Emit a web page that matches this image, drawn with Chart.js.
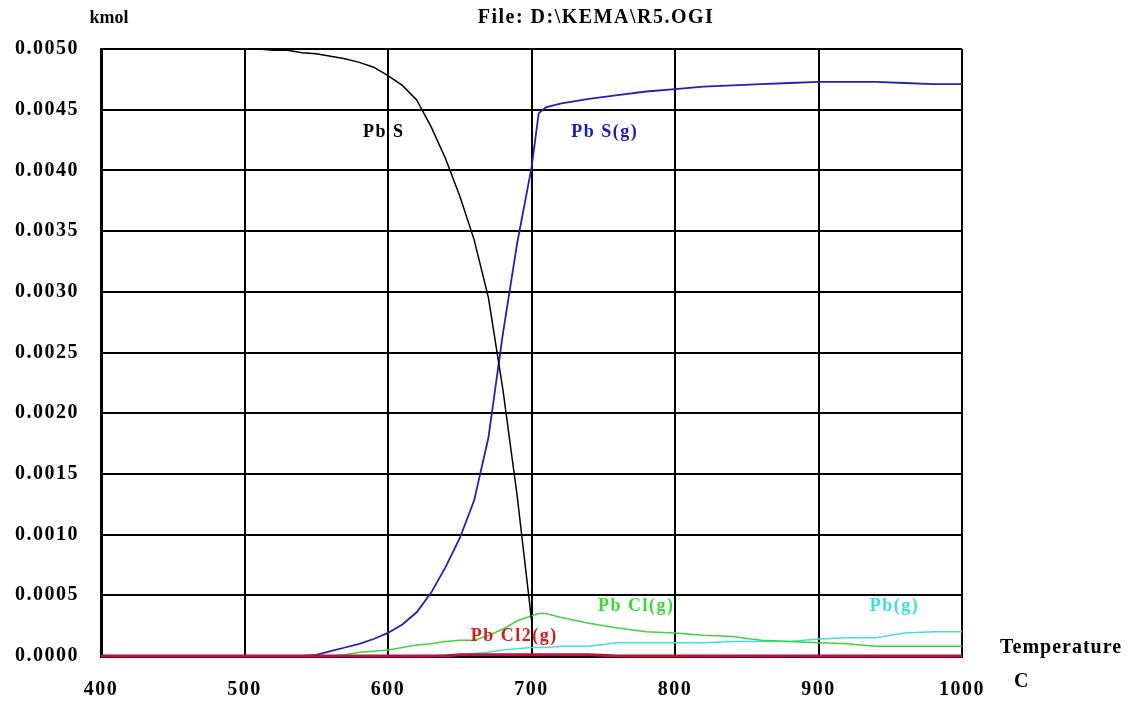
<!DOCTYPE html>
<html lang="en">
<head>
    <meta charset="UTF-8">
    <title>KEMA R5</title>
    <script src="https://cdn.jsdelivr.net/npm/chart.js"></script>
    <style>
        body { margin: 0; background: #fff; }
    </style>
</head>
<body>
<div style="width: 1130px; height: 701px;">
    <canvas id="eq-chart"></canvas>
</div>

<script>
    // temperature, C
    const temps = [400, 450, 500, 510, 520, 530, 540, 550, 560, 570, 580, 590, 600, 610, 620, 630, 640, 650, 660, 670,
        680, 690, 700, 705, 710, 720, 740, 760, 780, 800, 820, 840, 860, 880, 900, 920, 940, 960, 980, 1000];

    // kmol
    const pbS = [0.0050, 0.0050, 0.0050, 0.0050, 0.00499, 0.00499, 0.00497, 0.00496, 0.00494, 0.00492, 0.00489, 0.00485,
        0.00478, 0.00470, 0.00458, 0.00436, 0.00410, 0.00379, 0.00343, 0.00295, 0.00220, 0.00132, 0.00030, null,
        null, null, null, null, null, null, null, null, null, null, null, null, null, null, null, null];
    const pbSg = [0, 0, 0, 0, 0, 0, 0, 0.00001, 0.00004, 0.00007, 0.00010, 0.00014, 0.00019, 0.00026, 0.00036, 0.00052,
        0.00073, 0.00097, 0.00128, 0.00180, 0.00265, 0.00340, 0.00402, 0.00447, 0.00452, 0.00455, 0.00459, 0.00462,
        0.00465, 0.00467, 0.00469, 0.00470, 0.00471, 0.00472, 0.00473, 0.00473, 0.00473, 0.00472, 0.00471, 0.00471];
    const pbClg = [0, 0, 0, 0, 0, 0, 0, 0, 0, 0.00001, 0.00003, 0.00004, 0.00005, 0.00007, 0.00009, 0.00010, 0.00012,
        0.00013, 0.00013, 0.00017, 0.00022, 0.00029, 0.00033, 0.00035, 0.00035, 0.00032, 0.00027, 0.00023, 0.00020,
        0.00019, 0.00017, 0.00016, 0.00013, 0.00012, 0.00011, 0.00010, 0.00008, 0.00008, 0.00008, 0.00008];
    const pbg = [0, 0, 0, 0, 0, 0, 0, 0, 0, 0, 0, 0, 0, 0, 0, 0, 0.00001, 0.00001, 0.00002, 0.00003, 0.00005, 0.00006,
        0.00007, 0.00007, 0.00007, 0.00008, 0.00008, 0.00011, 0.00011, 0.00011, 0.00011, 0.00012, 0.00012, 0.00012,
        0.00014, 0.00015, 0.00015, 0.00019, 0.00020, 0.00020];
    const pbCl2g = [0, 0, 0, 0, 0, 0, 0, 0, 0, 0, 0, 0, 0, 0, 0, 0, 0, 0.00001, 0.00001, 0.00001, 0.00001, 0.00001,
        0.00001, 0.00001, 0.00001, 0.00001, 0.00001, 0, 0, 0, 0, 0, 0, 0, 0, 0, 0, 0, 0, 0];

    // curve names written inside the plot, at [temp, kmol]
    const curveNames = [
        {text: 'Pb S', at: [597, 0.00431], color: '#000000'},
        {text: 'Pb S(g)', at: [751, 0.00431], color: '#1a1abe'},
        {text: 'Pb Cl(g)', at: [773, 0.00041], color: '#38dc38'},
        {text: 'Pb(g)', at: [953, 0.00041], color: '#38e0e6'},
        {text: 'Pb Cl2(g)', at: [688, 0.00016], color: '#e01818'}
    ];

    const serif = 'Liberation Serif';

    function pts(arr) {
        return temps.map((t, i) => ({x: t, y: arr[i]}));
    }

    // the old plot uses widely spaced bold type
    const spacingPlugin = {
        id: 'spacing',
        beforeDraw(chart) { chart.ctx.letterSpacing = '1.5px'; },
        afterDraw(chart) { chart.ctx.letterSpacing = '0px'; }
    };

    const textPlugin = {
        id: 'texts',
        afterDatasetsDraw(chart) {
            const c = chart.ctx;
            const xs = chart.scales.x, ys = chart.scales.y;
            c.save();
            c.textBaseline = 'middle';
            c.textAlign = 'center';
            c.font = 'bold 18px "' + serif + '"';
            c.letterSpacing = '1.5px';
            curveNames.forEach(n => {
                c.fillStyle = n.color;
                c.fillText(n.text, xs.getPixelForValue(n.at[0]), ys.getPixelForValue(n.at[1]));
            });
            c.fillStyle = '#000';
            c.letterSpacing = '0px';
            c.fillText('kmol', 109, 18);
            c.font = 'bold 20px "' + serif + '"';
            c.letterSpacing = '1.5px';
            c.fillText('File: D:\\KEMA\\R5.OGI', 596, 18);
            c.textAlign = 'left';
            c.letterSpacing = '1px';
            c.fillText('Temperature', 1000, 648);
            c.fillText('C', 1014, 682);
            c.restore();
        }
    };

    const ctx = document.getElementById('eq-chart').getContext('2d');
    const chart = new Chart(ctx, {
        type: 'line',
        data: {
            datasets: [
                {label: 'PbCl2(g)', data: pts(pbCl2g), borderColor: '#c0103c', borderWidth: 3},
                {label: 'PbS', data: pts(pbS), borderColor: '#000000', borderWidth: 1.5},
                {label: 'PbS(g)', data: pts(pbSg), borderColor: '#2222b0', borderWidth: 1.8},
                {label: 'PbCl(g)', data: pts(pbClg), borderColor: '#44d044', borderWidth: 1.5},
                {label: 'Pb(g)', data: pts(pbg), borderColor: '#44dede', borderWidth: 1.5}
            ]
        },
        options: {
            responsive: true,
            maintainAspectRatio: false,
            animation: false,
            layout: {padding: {top: 49, right: 168, left: 0, bottom: 0}},
            elements: {
                point: {radius: 0},
                line: {tension: 0, fill: false}
            },
            datasets: {line: {clip: false}},
            plugins: {
                legend: {display: false},
                tooltip: {enabled: false}
            },
            scales: {
                x: {
                    type: 'linear',
                    min: 400,
                    max: 1000,
                    ticks: {
                        stepSize: 100,
                        padding: 22,
                        color: '#000',
                        font: {family: serif, weight: 'bold', size: 20},
                        callback: v => String(v)
                    },
                    grid: {color: '#000', lineWidth: 2, drawTicks: false},
                    border: {color: '#000', width: 3},
                    afterFit(scale) { scale.height = 45; }
                },
                y: {
                    min: 0,
                    max: 0.005,
                    ticks: {
                        stepSize: 0.0005,
                        padding: 22,
                        color: '#000',
                        font: {family: serif, weight: 'bold', size: 20},
                        callback: v => v.toFixed(4)
                    },
                    grid: {color: '#000', lineWidth: 2, drawTicks: false},
                    border: {color: '#000', width: 3},
                    afterFit(scale) { scale.width = 101; }
                }
            }
        },
        plugins: [spacingPlugin, textPlugin]
    });
</script>
</body>
</html>
